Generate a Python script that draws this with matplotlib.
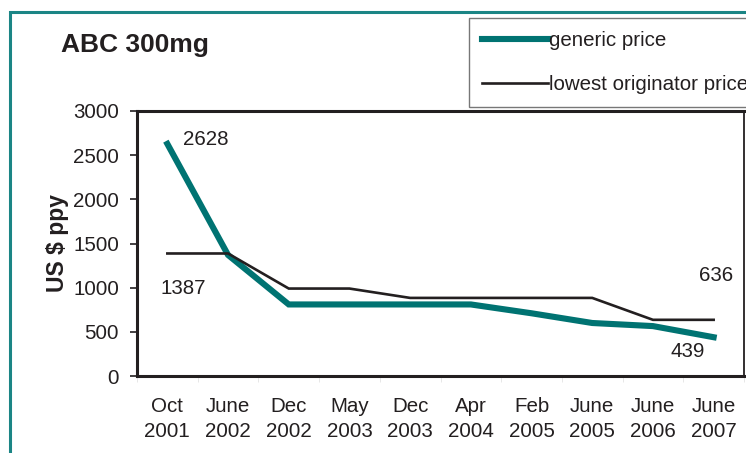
import matplotlib
matplotlib.use("Agg")
import matplotlib.pyplot as plt
from matplotlib.patches import Rectangle
from matplotlib.lines import Line2D

plt.rcParams['font.family'] = ['Liberation Sans', 'DejaVu Sans']

categories = ["Oct\n2001", "June\n2002", "Dec\n2002", "May\n2003", "Dec\n2003",
              "Apr\n2004", "Feb\n2005", "June\n2005", "June\n2006", "June\n2007"]
generic_price = [2628, 1370, 810, 810, 810, 810, 710, 600, 565, 439]
originator_price = [1387, 1387, 990, 990, 884, 884, 884, 884, 636, 636]
y_ticks = [0, 500, 1000, 1500, 2000, 2500, 3000]

TEAL = "#007372"
INK = "#231f20"
W, H = 746, 453

fig = plt.figure(figsize=(W / 100, H / 100), dpi=100)
fig.patch.set_facecolor("white")

# teal frame around the panel
fig.add_artist(Rectangle((9.5 / W, -0.2), 2.0, 1.2 - 11.5 / H,
                         transform=fig.transFigure, fill=False,
                         edgecolor="#1b8585", linewidth=2.2, clip_on=False))

ax = fig.add_axes([137 / W, 1 - 376 / H, (744 - 137) / W, (376 - 111) / H])
x = list(range(len(categories)))

ax.plot(x, originator_price, color=INK, linewidth=1.9, solid_joinstyle="miter",
        label="lowest originator price", zorder=3)
ax.plot(x, generic_price, color=TEAL, linewidth=4.4, solid_joinstyle="miter",
        label="generic price", zorder=2)

ax.set_xlim(-0.5, len(categories) - 0.5)
ax.set_ylim(0, 3000)
ax.set_yticks(y_ticks)
ax.set_yticklabels([str(v) for v in y_ticks])
ax.set_xticks(x)
ax.set_xticklabels(categories, linespacing=1.4)
ax.set_xticks([i - 0.5 for i in range(len(categories) + 1)], minor=True)

ax.tick_params(axis="y", direction="out", length=5, width=1.2, color=INK,
               labelsize=14.8, labelcolor=INK, pad=8)
ax.tick_params(axis="x", which="major", length=0, labelsize=14.8,
               labelcolor=INK, pad=15)
ax.tick_params(axis="x", which="minor", direction="out", length=4,
               width=0.6, color="#e3e3e3")

for side in ("left", "bottom", "top"):
    ax.spines[side].set_linewidth(2.2)
    ax.spines[side].set_color(INK)
ax.spines["right"].set_linewidth(1.3)
ax.spines["right"].set_color(INK)

ax.set_ylabel("US $ ppy", fontsize=16.5, fontweight="bold", color=INK, labelpad=3)

# value labels
ax.annotate(str(generic_price[0]), (0, generic_price[0]), xytext=(16, 4),
            textcoords="offset pixels", ha="left", va="center",
            fontsize=14.8, color=INK)
ax.annotate(str(originator_price[0]), (0, originator_price[0]), xytext=(-7, -35),
            textcoords="offset pixels", ha="left", va="center",
            fontsize=14.8, color=INK)
ax.annotate(str(originator_price[-1]), (9, originator_price[-1]), xytext=(2, 44),
            textcoords="offset pixels", ha="center", va="center",
            fontsize=14.8, color=INK)
ax.annotate(str(generic_price[-1]), (9, generic_price[-1]), xytext=(-26, -14),
            textcoords="offset pixels", ha="center", va="center",
            fontsize=14.8, color=INK)

fig.text(61 / W, 1 - 45 / H, "ABC 300mg", fontsize=19, fontweight="bold",
         color=INK, ha="left", va="center")

handles = [Line2D([], [], color=TEAL, linewidth=4.4),
           Line2D([], [], color=INK, linewidth=1.9)]
leg = fig.legend(handles, ["generic price", "lowest originator price"],
                 loc="upper left", bbox_to_anchor=(469 / W, 1 - 18 / H),
                 borderaxespad=0, fontsize=14.8, handlelength=3.2,
                 handletextpad=0.05, labelspacing=1.2, borderpad=0.65,
                 fancybox=False, frameon=True)
leg.get_frame().set_edgecolor("#555555")
leg.get_frame().set_linewidth(1.0)
for t in leg.get_texts():
    t.set_color(INK)

fig.savefig("out.png", dpi=100)
